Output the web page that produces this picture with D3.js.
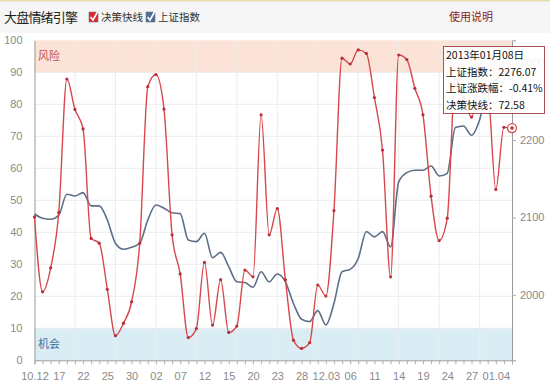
<!DOCTYPE html>
<html><head><meta charset="utf-8">
<script src="https://cdn.jsdelivr.net/npm/d3@7"></script>
<style>
html,body{margin:0;padding:0;background:#fff;}
svg{display:block;font-family:"Liberation Sans","Noto Sans CJK SC",sans-serif;}
</style></head>
<body>
<svg id="c" width="550" height="388"></svg>
<script>
// ---- data ----
const xLabels = ["10.12","17","22","25","30","02","07","12","15","20","23","28","12.03","06","11","14","19","24","27","01.04"];
const fastLine = [44.8,21.4,28.9,46.2,87.9,78.4,72.3,38.1,36.6,22.2,
  7.7,11.6,18.3,36.6,85.5,89.3,78.5,39.2,27.0,7.1,
  9.9,30.6,11.0,25.2,8.7,10.7,28.2,26.1,76.7,39.2,
  47.4,25.2,6.3,3.7,5.5,23.5,20.1,46.8,94.4,92.6,
  97.0,95.9,82.1,65.7,26.1,95.4,94.0,85.0,76.7,51.3,
  37.4,44.4,88,82,76,85,84,53.4,72.8,72.58];
const shIndex = [2104.5,2099,2097.7,2103,2130,2127.7,2132,2115,2115,2096.8,
  2066.7,2059,2061.5,2066.7,2096.8,2116,2112,2106,2105,2071,
  2068.8,2079.6,2048,2055,2036.5,2017,2016,2010,2030,2017,
  2027,2017,1989,1968.6,1965.6,1979.8,1961.3,1989,2030,2033,
  2047,2081.7,2075,2081.7,2062,2146,2157.8,2161,2161,2166.5,
  2153.5,2157,2216,2218,2206,2226,2269,2277,2285.4,2276.07];
const leftTicks = [0,10,20,30,40,50,60,70,80,90,100];
const rightTicks = [2000,2100,2200,2300];
const tipLines = ["2013年01月08日","上证指数：2276.07","上证涨跌幅：-0.41%","决策快线：72.58"];

// ---- layout ----
const svg = d3.select("#c");
const L = 34.5, R = 512, T = 40.3, B = 360.3;
const n = fastLine.length;
const x = d3.scaleLinear().domain([0, n-1]).range([L, R]);
const y = d3.scaleLinear().domain([0,100]).range([B, T]);
const yR = d3.scaleLinear().domain([1915.7, 2328.6]).range([B, T]);

// header
svg.append("rect").attr("x",0).attr("y",0).attr("width",550).attr("height",33).attr("fill","#f6f6f6");
svg.append("rect").attr("x",0).attr("y",0).attr("width",550).attr("height",1.5).attr("fill","#eadcb0");
svg.append("text").attr("x",4).attr("y",22).attr("font-size",13).attr("fill","#222")
  .attr("font-family","Noto Sans CJK SC").attr("textLength",74).text("大盘情绪引擎");
function checkbox(x0, col, label){
  const g = svg.append("g");
  g.append("rect").attr("x",x0).attr("y",12).attr("width",9).attr("height",10).attr("fill",col).attr("stroke","#777").attr("stroke-width",0.6);
  g.append("path").attr("d",`M${x0+1.5},${17} L${x0+4},${20} L${x0+9},${11}`).attr("fill","none").attr("stroke","#fff").attr("stroke-width",1.6);
  g.append("text").attr("x",x0+12).attr("y",21).attr("font-size",10.5).attr("fill","#333")
    .attr("font-family","Noto Sans CJK SC").text(label);
}
checkbox(89,"#d8262c","决策快线");
checkbox(146,"#4d6d9a","上证指数");
svg.append("text").attr("x",449).attr("y",21).attr("font-size",11).attr("fill","#8a1c1c")
  .attr("font-family","Noto Sans CJK SC").text("使用说明");

// bands
svg.append("rect").attr("x",L).attr("y",y(100)).attr("width",R-L).attr("height",y(90)-y(100)).attr("fill","#fbe4d7");
svg.append("rect").attr("x",L).attr("y",y(10)).attr("width",R-L).attr("height",y(0)-y(10)).attr("fill","#daedf4");
svg.append("text").attr("x",38).attr("y",y(95)+4).attr("font-size",11).attr("fill","#c4504a").attr("font-family","Noto Sans CJK SC").text("风险");
svg.append("text").attr("x",38).attr("y",y(5)+4).attr("font-size",11).attr("fill","#3d6f9e").attr("font-family","Noto Sans CJK SC").text("机会");

// grid
const grid = svg.append("g").attr("stroke","#ececec").attr("stroke-width",1);
leftTicks.filter(v=>v>0&&v<100).forEach(v=>grid.append("line").attr("x1",L).attr("x2",R).attr("y1",y(v)).attr("y2",y(v)));
d3.range(5, n, 5).forEach(i=>grid.append("line").attr("x1",x(i)).attr("x2",x(i)).attr("y1",T).attr("y2",B));

// axes
const axL = svg.append("g").attr("transform",`translate(${L},0)`)
  .call(d3.axisLeft(y).tickValues(leftTicks).tickSize(0).tickPadding(12));
const axR = svg.append("g").attr("transform",`translate(${R},0)`)
  .call(d3.axisRight(yR).tickValues(rightTicks).tickSize(4).tickPadding(4).tickFormat(d3.format("d")));
const axB = svg.append("g").attr("transform",`translate(0,${B})`)
  .call(d3.axisBottom(x).tickValues(d3.range(n)).tickSize(4).tickFormat(""));
const axB2 = svg.append("g").attr("transform",`translate(0,${B})`)
  .call(d3.axisBottom(x).tickValues(xLabels.map((d,i)=>i*3)).tickSize(0).tickPadding(12)
    .tickFormat((d,i)=>xLabels[i]));
axB2.select(".domain").remove();
[axL,axR,axB,axB2].forEach(a=>{
  a.selectAll("text").attr("fill","#8a8a8a").attr("font-size",11).attr("font-family","Liberation Sans, Arial, sans-serif");
  a.selectAll(".domain").attr("stroke","#9a9a9a");
  a.selectAll(".tick line").attr("stroke","#b0b0b0");
});

// lines
const lineB = d3.line().x((d,i)=>x(i)).y(d=>yR(d)).curve(d3.curveMonotoneX);
svg.append("path").datum(shIndex).attr("d",lineB).attr("fill","none").attr("stroke","#5d6f86").attr("stroke-width",1.6);
const lineR = d3.line().x((d,i)=>x(i)).y(d=>y(d)).curve(d3.curveMonotoneX);
svg.append("path").datum(fastLine).attr("d",lineR).attr("fill","none").attr("stroke","#d9474d").attr("stroke-width",1.4);
svg.append("g").selectAll("circle").data(fastLine).join("circle")
  .attr("cx",(d,i)=>x(i)).attr("cy",d=>y(d)).attr("r",1.6).attr("fill","#b8303a");

// hover marker
const li = n-1;
svg.append("circle").attr("cx",x(li)).attr("cy",y(fastLine[li])).attr("r",4.5).attr("fill","#fff").attr("stroke","#d9474d").attr("stroke-width",1.3);
svg.append("circle").attr("cx",x(li)).attr("cy",y(fastLine[li])).attr("r",1.8).attr("fill","#b8303a");

// tooltip
const tg = svg.append("g");
tg.append("rect").attr("x",443.5).attr("y",46.5).attr("width",101).attr("height",67)
  .attr("fill","rgba(255,255,255,0.9)").attr("stroke","#a8505a").attr("stroke-width",1);
tipLines.forEach((t,i)=>tg.append("text").attr("x",446).attr("y",59+i*16.5).attr("font-size",10.5)
  .attr("fill","#111").attr("font-family","Noto Sans CJK SC").text(t));
</script>
</body></html>
